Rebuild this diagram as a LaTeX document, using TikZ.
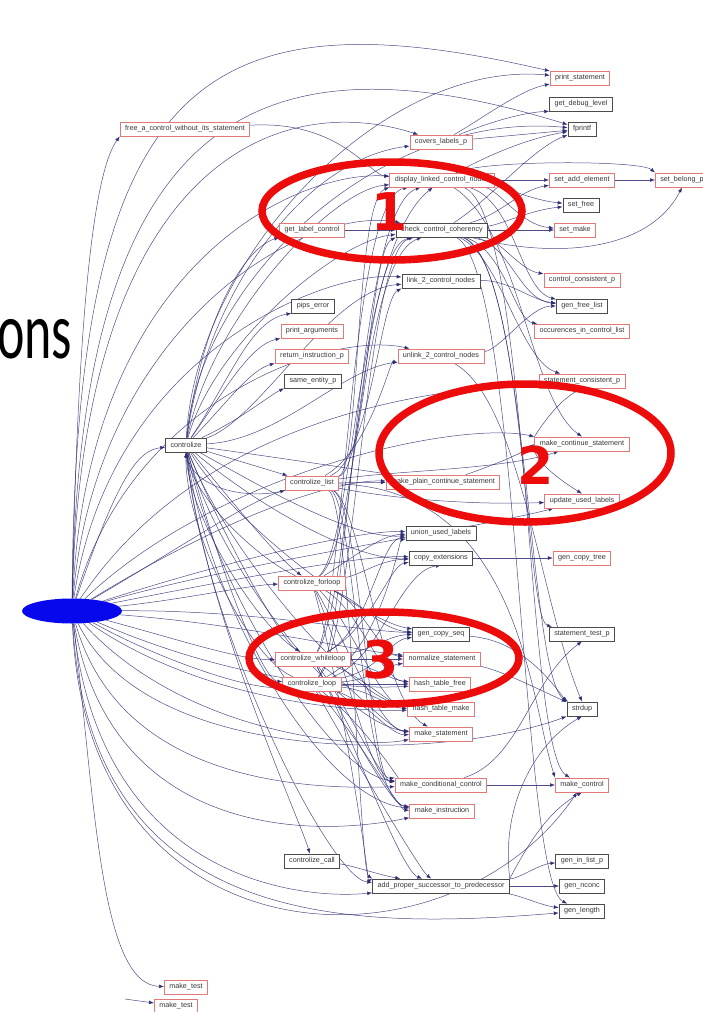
\documentclass[tikz,border=0pt]{standalone}
\usepackage{fontspec}
\usepackage{graphicx}
\setmainfont{Liberation Sans}
\newfontfamily\titlefont{Carlito}
\newfontfamily\digitfont{DejaVu Sans}
\usetikzlibrary{arrows.meta,backgrounds,shapes.geometric}

\definecolor{edgeblue}{RGB}{45,45,115}
\definecolor{boxred}{RGB}{226,120,120}
\definecolor{boxgray}{RGB}{75,75,75}
\definecolor{txtgray}{RGB}{55,55,55}
\definecolor{markred}{RGB}{236,12,12}
\definecolor{rootblue}{RGB}{8,8,236}

\tikzset{
  fnbox/.style={draw=boxgray, line width=0.7pt, fill=white, text=txtgray,
    font=\fontsize{7.2}{8}\selectfont, inner xsep=5pt, inner ysep=0pt,
    minimum height=14pt},
  redbox/.style={fnbox, draw=boxred},
  call/.style={draw=edgeblue, draw opacity=0.85, line width=0.5pt,
    -{Latex[length=5pt,width=3.8pt]}},
  ring/.style={draw=markred, line width=7.5pt},
  digit/.style={text=markred, font=\digitfont\bfseries\fontsize{52}{52}\selectfont, inner sep=0pt}
}

\begin{document}
\begin{tikzpicture}[x=1pt,y=-1pt]
\useasboundingbox (0,0) rectangle (702,1012);

% slide title fragment
\node[anchor=base west, inner sep=0pt, font=\titlefont\fontsize{52}{52}\selectfont] (title) at (-3,358) {\scalebox{1}[1.55]{ons}};

% caller node
\node[ellipse, fill=rootblue, minimum width=100pt, minimum height=25pt, inner sep=0pt] (r) at (72,611) {};

% functions
\node[redbox] (ps) at (580,78) {print\_statement};
\node[fnbox] (gdl) at (581,104) {get\_debug\_level};
\node[fnbox] (fp) at (582,129) {fprintf};
\node[redbox] (clp) at (441,142) {covers\_labels\_p};
\node[redbox] (fac) at (185,129) {free\_a\_control\_without\_its\_statement};
\node[redbox] (dlc) at (442,180) {display\_linked\_control\_nodes};
\node[redbox] (sae) at (582,180) {set\_add\_element};
\node[redbox] (sbp) at (682,180) {set\_belong\_p};
\node[fnbox] (sf) at (581,205) {set\_free};
\node[redbox] (glc) at (312,230) {get\_label\_control};
\node[fnbox] (ccc) at (442,230) {check\_control\_coherency};
\node[redbox] (sm) at (575,230) {set\_make};
\node[redbox] (ccp) at (582,280) {control\_consistent\_p};
\node[fnbox] (ltwo) at (441,281) {link\_2\_control\_nodes};
\node[fnbox] (gfl) at (582,306) {gen\_free\_list};
\node[fnbox] (pe) at (313,306) {pips\_error};
\node[redbox] (pa) at (312,331) {print\_arguments};
\node[redbox] (ocl) at (582,331) {occurences\_in\_control\_list};
\node[redbox] (rip) at (312,356) {return\_instruction\_p};
\node[redbox] (ultwo) at (441,356) {unlink\_2\_control\_nodes};
\node[fnbox] (sep) at (313,381) {same\_entity\_p};
\node[redbox] (scp) at (582,381) {statement\_consistent\_p};
\node[fnbox] (ctz) at (186,445) {controlize};
\node[redbox] (mcs) at (582,444) {make\_continue\_statement};
\node[redbox] (cl) at (312,483) {controlize\_list};
\node[redbox] (mpcs) at (443,482) {make\_plain\_continue\_statement};
\node[redbox] (uul) at (582,501) {update\_used\_labels};
\node[fnbox] (uulb) at (441,533) {union\_used\_labels};
\node[fnbox] (ce) at (441,558) {copy\_extensions};
\node[redbox] (gct) at (582,558) {gen\_copy\_tree};
\node[redbox] (cf) at (312,583) {controlize\_forloop};
\node[fnbox] (stp) at (582,634) {statement\_test\_p};
\node[fnbox] (gcs) at (441,634) {gen\_copy\_seq};
\node[redbox] (cw) at (313,659) {controlize\_whileloop};
\node[redbox] (ns) at (442,659) {normalize\_statement};
\node[redbox] (cloop) at (312,684) {controlize\_loop};
\node[redbox] (htf) at (440,684) {hash\_table\_free};
\node[redbox] (htm) at (441,709) {hash\_table\_make};
\node[fnbox] (sd) at (582,709) {strdup};
\node[redbox] (ms) at (441,734) {make\_statement};
\node[redbox] (mcc) at (441,785) {make\_conditional\_control};
\node[redbox] (mc) at (582,785) {make\_control};
\node[redbox] (mi) at (442,811) {make\_instruction};
\node[fnbox] (cc) at (312,861) {controlize\_call};
\node[fnbox] (gil) at (582,861) {gen\_in\_list\_p};
\node[fnbox] (apsp) at (441,886) {add\_proper\_successor\_to\_predecessor};
\node[fnbox] (gn) at (582,886) {gen\_nconc};
\node[fnbox] (gl) at (582,911) {gen\_length};
\node[redbox] (mta) at (186,987) {make\_test};
\node[redbox] (mtb) at (176,1006) {make\_test};
\coordinate (mtbin) at (125,999);

\begin{scope}[on background layer]
% calls from the caller
\draw[call] (r) .. controls (75,80) and (200,-10) .. (ps);
\draw[call] (r) .. controls (80,110) and (260,30) .. (fp);
\draw[call] (r) .. controls (82,160) and (280,90) .. (clp);
\draw[call] (r) .. controls (78,300) and (95,170) .. (fac.south west);
\draw[call] (r) .. controls (88,260) and (300,170) .. (dlc);
\draw[call] (r) .. controls (95,330) and (300,205) .. (ccc);
\draw[call] (r) .. controls (110,350) and (330,270) .. (ltwo);
\draw[call] (r) .. controls (130,400) and (330,330) .. (ultwo);
\draw[call] (r) .. controls (120,470) and (140,450) .. (ctz);
\draw[call] (r) .. controls (200,420) and (420,390) .. (scp);
\draw[call] (r) .. controls (220,470) and (460,420) .. (mcs.north west);
\draw[call] (r) .. controls (220,520) and (330,480) .. (mpcs);
\draw[call] (r) .. controls (250,560) and (470,530) .. (uul);
\draw[call] (r) .. controls (230,560) and (360,530) .. (uulb);
\draw[call] (r) .. controls (230,580) and (360,555) .. (ce);
\draw[call] (r) .. controls (160,560) and (250,500) .. (cl);
\draw[call] (r) .. controls (180,600) and (250,585) .. (cf);
\draw[call] (r) .. controls (250,610) and (350,630) .. (gcs);
\draw[call] (r) .. controls (250,625) and (350,650) .. (ns);
\draw[call] (r) .. controls (180,640) and (240,660) .. (cw);
\draw[call] (r) .. controls (160,660) and (250,690) .. (cloop);
\draw[call] (r) .. controls (230,680) and (350,690) .. (htf);
\draw[call] (r) .. controls (200,700) and (350,712) .. (htm);
\draw[call] (r) .. controls (180,730) and (350,750) .. (ms);
\draw[call] (r) .. controls (150,770) and (450,760) .. (sd.south west);
\draw[call] (r) .. controls (120,780) and (300,790) .. (mcc);
\draw[call] (r) .. controls (110,830) and (300,840) .. (mi);
\draw[call] (r) .. controls (100,880) and (300,900) .. (apsp);
\draw[call] (r) .. controls (90,930) and (350,930) .. (gl);
\draw[call] (r) .. controls (85,970) and (450,980) .. (mc);
\draw[call] (r) .. controls (95,800) and (100,985) .. (mta);
\draw[call] (mtbin) -- (mtb);

% calls from controlize
\draw[call] (ctz) .. controls (230,380) and (250,320) .. (pe.south west);
\draw[call] (ctz) .. controls (225,390) and (250,345) .. (pa.south west);
\draw[call] (ctz) .. controls (225,405) and (250,370) .. (rip.south west);
\draw[call] (ctz) .. controls (240,420) and (270,395) .. (sep.south west);
\draw[call] (ctz) .. controls (200,330) and (240,250) .. (glc.south west);
\draw[call] (ctz) .. controls (195,260) and (380,60) .. (ps);
\draw[call] (ctz) .. controls (200,280) and (380,110) .. (fp);
\draw[call] (ctz) .. controls (205,300) and (300,160) .. (clp);
\draw[call] (ctz) .. controls (210,320) and (330,190) .. (dlc);
\draw[call] (ctz) .. controls (215,340) and (340,240) .. (ccc);
\draw[call] (ctz) .. controls (260,420) and (330,290) .. (ltwo);
\draw[call] (ctz) .. controls (280,440) and (340,370) .. (ultwo);
\draw[call] (ctz) -- (cl);
\draw[call] (ctz) .. controls (230,500) and (280,560) .. (cf);
\draw[call] (ctz) .. controls (215,520) and (280,640) .. (cw);
\draw[call] (ctz) .. controls (210,540) and (260,680) .. (cloop);
\draw[call] (ctz) .. controls (200,600) and (300,820) .. (cc);
\draw[call] (ctz) .. controls (260,455) and (360,470) .. (mpcs);
\draw[call] (ctz) .. controls (250,480) and (350,540) .. (uulb);
\draw[call] (ctz) .. controls (250,500) and (350,560) .. (ce);
\draw[call] (ctz) .. controls (230,520) and (360,620) .. (gcs);
\draw[call] (ctz) .. controls (220,540) and (350,700) .. (htm);
\draw[call] (ctz) .. controls (215,560) and (340,725) .. (ms);
\draw[call] (ctz) .. controls (210,580) and (330,775) .. (mcc);
\draw[call] (ctz) .. controls (205,600) and (320,800) .. (mi);
\draw[call] (ctz) .. controls (200,620) and (330,880) .. (apsp);

% recursive calls back into controlize
\draw[call] (cl) .. controls (250,500) and (195,490) .. (ctz.south);
\draw[call] (cf) .. controls (260,560) and (195,500) .. (ctz.south);
\draw[call] (cw) .. controls (260,630) and (190,520) .. (ctz.south);
\draw[call] (cloop) .. controls (250,660) and (185,530) .. (ctz.south);

% controlize_list
\draw[call] (cl) -- (mpcs);
\draw[call] (cl) .. controls (360,470) and (355,200) .. (dlc.south west);
\draw[call] (cl) .. controls (365,470) and (370,250) .. (ccc.south west);
\draw[call] (cl) .. controls (370,460) and (380,300) .. (ltwo.south west);
\draw[call] (cl) .. controls (370,450) and (390,360) .. (ultwo.south west);
\draw[call] (cl) .. controls (400,470) and (500,470) .. (mcs);
\draw[call] (cl) .. controls (400,500) and (480,505) .. (uul);
\draw[call] (cl) .. controls (360,500) and (370,780) .. (mcc);
\draw[call] (cl) .. controls (355,500) and (360,800) .. (mi);
\draw[call] (cl) .. controls (350,500) and (360,870) .. (apsp.north west);
\draw[call] (cl) .. controls (360,500) and (380,700) .. (ms);
\draw[call] (cl) .. controls (520,490) and (530,700) .. (mc.north west);

% controlize_forloop
\draw[call] (cf) .. controls (350,560) and (380,535) .. (uulb);
\draw[call] (cf) .. controls (360,575) and (380,560) .. (ce);
\draw[call] (cf) .. controls (360,600) and (380,630) .. (gcs);
\draw[call] (cf) .. controls (360,600) and (380,655) .. (ns);
\draw[call] (cf) .. controls (360,610) and (380,680) .. (htf);
\draw[call] (cf) .. controls (350,620) and (380,705) .. (htm);
\draw[call] (cf) .. controls (345,640) and (380,730) .. (ms);
\draw[call] (cf) .. controls (345,660) and (370,780) .. (mcc);
\draw[call] (cf) .. controls (340,680) and (370,880) .. (apsp.north west);
\draw[call] (cf) .. controls (355,540) and (355,250) .. (dlc);
\draw[call] (cf) .. controls (360,540) and (360,260) .. (ccc);

% controlize_whileloop
\draw[call] (cw) .. controls (370,630) and (380,540) .. (uulb);
\draw[call] (cw) .. controls (370,630) and (390,565) .. (ce);
\draw[call] (cw) .. controls (370,650) and (390,635) .. (gcs);
\draw[call] (cw) -- (ns);
\draw[call] (cw) .. controls (370,665) and (390,680) .. (htf);
\draw[call] (cw) .. controls (360,675) and (390,705) .. (htm);
\draw[call] (cw) .. controls (355,690) and (390,730) .. (ms);
\draw[call] (cw) .. controls (350,710) and (380,780) .. (mcc.north west);
\draw[call] (cw) .. controls (345,720) and (390,805) .. (mi);
\draw[call] (cw) .. controls (350,730) and (400,870) .. (apsp);
\draw[call] (cw) .. controls (345,600) and (350,200) .. (dlc);
\draw[call] (cw) .. controls (350,600) and (360,250) .. (ccc);

% controlize_loop
\draw[call] (cloop) .. controls (380,650) and (400,540) .. (uulb);
\draw[call] (cloop) .. controls (380,660) and (400,570) .. (ce.south);
\draw[call] (cloop) .. controls (380,670) and (390,640) .. (gcs);
\draw[call] (cloop) .. controls (370,680) and (390,665) .. (ns);
\draw[call] (cloop) -- (htf);
\draw[call] (cloop) .. controls (370,690) and (390,708) .. (htm);
\draw[call] (cloop) .. controls (365,700) and (390,735) .. (ms);
\draw[call] (cloop) .. controls (360,720) and (400,780) .. (mcc);
\draw[call] (cloop) .. controls (360,740) and (400,810) .. (mi);
\draw[call] (cloop) .. controls (355,760) and (420,870) .. (apsp);
\draw[call] (cloop) .. controls (355,640) and (365,250) .. (ccc);
\draw[call] (cloop) .. controls (350,640) and (355,210) .. (dlc);

\draw[call] (cc) .. controls (350,865) and (380,875) .. (apsp);
\draw[call] (fac) .. controls (340,120) and (370,175) .. (dlc);

% upper middle column
\draw[call] (clp) .. controls (480,120) and (520,90) .. (ps);
\draw[call] (clp) .. controls (500,118) and (530,112) .. (gdl.south west);
\draw[call] (clp) -- (fp);
\draw[call] (dlc) -- (sae);
\draw[call] (dlc) .. controls (500,185) and (530,200) .. (sf);
\draw[call] (dlc) .. controls (500,190) and (520,225) .. (sm);
\draw[call] (dlc) .. controls (480,160) and (520,140) .. (fp);
\draw[call] (dlc) .. controls (480,160) and (640,160) .. (sbp.north west);
\draw[call] (sae) -- (sbp);
\draw[call] (glc) -- (ccc);
\draw[call] (ccc) -- (sm);
\draw[call] (ccc) .. controls (500,225) and (530,210) .. (sf);
\draw[call] (ccc) .. controls (500,215) and (520,190) .. (sae);
\draw[call] (ccc) .. controls (490,200) and (530,150) .. (fp);
\draw[call] (ccc) .. controls (560,260) and (650,250) .. (sbp.south);
\draw[call] (ccc) .. controls (500,240) and (520,270) .. (ccp);
\draw[call] (ccc) .. controls (510,245) and (520,300) .. (gfl);
\draw[call] (ccc) .. controls (505,250) and (515,320) .. (ocl);
\draw[call] (ccc) .. controls (500,255) and (520,360) .. (scp);
\draw[call] (ccc) .. controls (525,260) and (525,620) .. (stp);
\draw[call] (ccc) .. controls (528,260) and (528,680) .. (sd);
\draw[call] (ccc) .. controls (520,270) and (520,880) .. (gl);
\draw[call] (dlc) .. controls (515,200) and (520,290) .. (gfl);
\draw[call] (dlc) .. controls (530,210) and (525,750) .. (mc);
\draw[call] (dlc) .. controls (520,230) and (530,400) .. (mcs.north);
\draw[call] (ltwo) .. controls (510,280) and (530,300) .. (gfl);
\draw[call] (ultwo) .. controls (500,350) and (530,306) .. (gfl);
\draw[call] (ultwo) .. controls (520,400) and (540,600) .. (sd.north);

% lower middle column
\draw[call] (mcs.north west) .. controls (545,420) and (560,400) .. (scp.south);
\draw[call] (mcs.south west) .. controls (540,465) and (560,480) .. (uul.north);
\draw[call] (mpcs) .. controls (480,470) and (520,455) .. (mcs.west);
\draw[call] (ce) -- (gct);
\draw[call] (gcs) .. controls (520,640) and (550,680) .. (sd.north west);
\draw[call] (ns) .. controls (500,670) and (540,690) .. (sd);
\draw[call] (mcc) -- (mc);
\draw[call] (mcc) .. controls (520,760) and (530,680) .. (stp.south);
\draw[call] (apsp) .. controls (520,878) and (540,864) .. (gil);
\draw[call] (apsp) -- (gn);
\draw[call] (apsp) .. controls (520,895) and (540,905) .. (gl);
\draw[call] (apsp.north east) .. controls (530,840) and (550,810) .. (mc.south);
\draw[call] (apsp.north east) .. controls (500,800) and (540,740) .. (sd.south);
\end{scope}

% highlighted groups
\draw[ring] (392,211) ellipse [x radius=130, y radius=49];
\draw[ring] (525,453) ellipse [x radius=146, y radius=69];
\draw[ring] (384,658) ellipse [x radius=135, y radius=46];
\node[digit] (one) at (390,212) {1};
\node[digit] (two) at (536,465) {2};
\node[digit] (three) at (381,660) {3};
\end{tikzpicture}
\end{document}
